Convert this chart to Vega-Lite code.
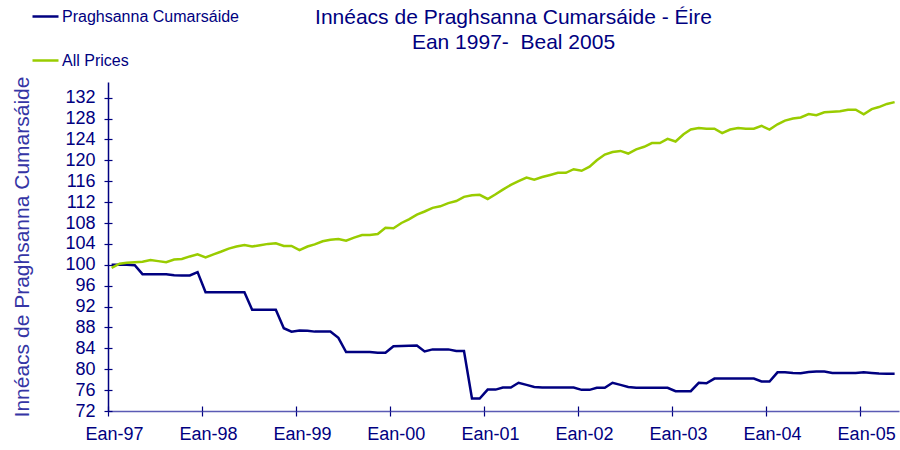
{
  "$schema": "https://vega.github.io/schema/vega-lite/v6.json",
  "autosize": {"type": "none"},
  "padding": {"left": 108, "top": 82, "right": 1, "bottom": 39},
  "width": 791,
  "height": 329,
  "background": "white",
  "config": {"font": "Liberation Sans", "view": {"stroke": null}},
  "title": {
    "text": ["Innéacs de Praghsanna Cumarsáide - Éire", "Ean 1997-\u00a0 Beal 2005"],
    "font": "Liberation Sans",
    "fontSize": 21,
    "fontWeight": "normal",
    "color": "#000080",
    "anchor": "middle",
    "dx": 10,
    "dy": 80,
    "offset": 29,
    "lineHeight": 25
  },
  "data": {
    "values": [
      {"date": "1997-01-15", "Praghsanna Cumarsáide": 100, "All Prices": 99.4},
      {"date": "1997-02-15", "Praghsanna Cumarsáide": 100, "All Prices": 100.2},
      {"date": "1997-03-15", "Praghsanna Cumarsáide": 100, "All Prices": 100.4},
      {"date": "1997-04-15", "Praghsanna Cumarsáide": 99.9, "All Prices": 100.5},
      {"date": "1997-05-15", "Praghsanna Cumarsáide": 98.2, "All Prices": 100.6},
      {"date": "1997-06-15", "Praghsanna Cumarsáide": 98.2, "All Prices": 100.9},
      {"date": "1997-07-15", "Praghsanna Cumarsáide": 98.2, "All Prices": 100.7},
      {"date": "1997-08-15", "Praghsanna Cumarsáide": 98.2, "All Prices": 100.5},
      {"date": "1997-09-15", "Praghsanna Cumarsáide": 98.0, "All Prices": 101.0},
      {"date": "1997-10-15", "Praghsanna Cumarsáide": 97.95, "All Prices": 101.1},
      {"date": "1997-11-15", "Praghsanna Cumarsáide": 97.95, "All Prices": 101.6},
      {"date": "1997-12-15", "Praghsanna Cumarsáide": 98.6, "All Prices": 102.0},
      {"date": "1998-01-15", "Praghsanna Cumarsáide": 94.75, "All Prices": 101.4},
      {"date": "1998-02-15", "Praghsanna Cumarsáide": 94.75, "All Prices": 102.0},
      {"date": "1998-03-15", "Praghsanna Cumarsáide": 94.75, "All Prices": 102.5},
      {"date": "1998-04-15", "Praghsanna Cumarsáide": 94.75, "All Prices": 103.1},
      {"date": "1998-05-15", "Praghsanna Cumarsáide": 94.75, "All Prices": 103.5},
      {"date": "1998-06-15", "Praghsanna Cumarsáide": 94.75, "All Prices": 103.8},
      {"date": "1998-07-15", "Praghsanna Cumarsáide": 91.4, "All Prices": 103.5},
      {"date": "1998-08-15", "Praghsanna Cumarsáide": 91.4, "All Prices": 103.75},
      {"date": "1998-09-15", "Praghsanna Cumarsáide": 91.4, "All Prices": 104.0},
      {"date": "1998-10-15", "Praghsanna Cumarsáide": 91.4, "All Prices": 104.1},
      {"date": "1998-11-15", "Praghsanna Cumarsáide": 87.85, "All Prices": 103.6},
      {"date": "1998-12-15", "Praghsanna Cumarsáide": 87.2, "All Prices": 103.6},
      {"date": "1999-01-15", "Praghsanna Cumarsáide": 87.4, "All Prices": 102.8},
      {"date": "1999-02-15", "Praghsanna Cumarsáide": 87.35, "All Prices": 103.5},
      {"date": "1999-03-15", "Praghsanna Cumarsáide": 87.2, "All Prices": 103.9},
      {"date": "1999-04-15", "Praghsanna Cumarsáide": 87.2, "All Prices": 104.5},
      {"date": "1999-05-15", "Praghsanna Cumarsáide": 87.2, "All Prices": 104.8},
      {"date": "1999-06-15", "Praghsanna Cumarsáide": 86.0, "All Prices": 104.95},
      {"date": "1999-07-15", "Praghsanna Cumarsáide": 83.3, "All Prices": 104.6},
      {"date": "1999-08-15", "Praghsanna Cumarsáide": 83.3, "All Prices": 105.2},
      {"date": "1999-09-15", "Praghsanna Cumarsáide": 83.3, "All Prices": 105.7},
      {"date": "1999-10-15", "Praghsanna Cumarsáide": 83.3, "All Prices": 105.7},
      {"date": "1999-11-15", "Praghsanna Cumarsáide": 83.15, "All Prices": 105.9},
      {"date": "1999-12-15", "Praghsanna Cumarsáide": 83.15, "All Prices": 107.1},
      {"date": "2000-01-15", "Praghsanna Cumarsáide": 84.4, "All Prices": 107.0},
      {"date": "2000-02-15", "Praghsanna Cumarsáide": 84.45, "All Prices": 108.0},
      {"date": "2000-03-15", "Praghsanna Cumarsáide": 84.5, "All Prices": 108.7},
      {"date": "2000-04-15", "Praghsanna Cumarsáide": 84.55, "All Prices": 109.6},
      {"date": "2000-05-15", "Praghsanna Cumarsáide": 83.4, "All Prices": 110.2},
      {"date": "2000-06-15", "Praghsanna Cumarsáide": 83.8, "All Prices": 110.9},
      {"date": "2000-07-15", "Praghsanna Cumarsáide": 83.8, "All Prices": 111.2},
      {"date": "2000-08-15", "Praghsanna Cumarsáide": 83.8, "All Prices": 111.8},
      {"date": "2000-09-15", "Praghsanna Cumarsáide": 83.5, "All Prices": 112.2},
      {"date": "2000-10-15", "Praghsanna Cumarsáide": 83.5, "All Prices": 113.0},
      {"date": "2000-11-15", "Praghsanna Cumarsáide": 74.4, "All Prices": 113.3},
      {"date": "2000-12-15", "Praghsanna Cumarsáide": 74.4, "All Prices": 113.4},
      {"date": "2001-01-15", "Praghsanna Cumarsáide": 76.1, "All Prices": 112.6},
      {"date": "2001-02-15", "Praghsanna Cumarsáide": 76.1, "All Prices": 113.5},
      {"date": "2001-03-15", "Praghsanna Cumarsáide": 76.5, "All Prices": 114.4},
      {"date": "2001-04-15", "Praghsanna Cumarsáide": 76.5, "All Prices": 115.3},
      {"date": "2001-05-15", "Praghsanna Cumarsáide": 77.4, "All Prices": 116.0},
      {"date": "2001-06-15", "Praghsanna Cumarsáide": 77.0, "All Prices": 116.7},
      {"date": "2001-07-15", "Praghsanna Cumarsáide": 76.6, "All Prices": 116.3},
      {"date": "2001-08-15", "Praghsanna Cumarsáide": 76.5, "All Prices": 116.8},
      {"date": "2001-09-15", "Praghsanna Cumarsáide": 76.5, "All Prices": 117.2},
      {"date": "2001-10-15", "Praghsanna Cumarsáide": 76.5, "All Prices": 117.6},
      {"date": "2001-11-15", "Praghsanna Cumarsáide": 76.5, "All Prices": 117.6},
      {"date": "2001-12-15", "Praghsanna Cumarsáide": 76.5, "All Prices": 118.3},
      {"date": "2002-01-15", "Praghsanna Cumarsáide": 76.05, "All Prices": 118.0},
      {"date": "2002-02-15", "Praghsanna Cumarsáide": 76.05, "All Prices": 118.8},
      {"date": "2002-03-15", "Praghsanna Cumarsáide": 76.45, "All Prices": 120.0},
      {"date": "2002-04-15", "Praghsanna Cumarsáide": 76.45, "All Prices": 121.1},
      {"date": "2002-05-15", "Praghsanna Cumarsáide": 77.4, "All Prices": 121.6},
      {"date": "2002-06-15", "Praghsanna Cumarsáide": 77.0, "All Prices": 121.8},
      {"date": "2002-07-15", "Praghsanna Cumarsáide": 76.6, "All Prices": 121.3},
      {"date": "2002-08-15", "Praghsanna Cumarsáide": 76.45, "All Prices": 122.1},
      {"date": "2002-09-15", "Praghsanna Cumarsáide": 76.45, "All Prices": 122.6},
      {"date": "2002-10-15", "Praghsanna Cumarsáide": 76.45, "All Prices": 123.3},
      {"date": "2002-11-15", "Praghsanna Cumarsáide": 76.45, "All Prices": 123.3},
      {"date": "2002-12-15", "Praghsanna Cumarsáide": 76.45, "All Prices": 124.1},
      {"date": "2003-01-15", "Praghsanna Cumarsáide": 75.8, "All Prices": 123.6},
      {"date": "2003-02-15", "Praghsanna Cumarsáide": 75.8, "All Prices": 125.0},
      {"date": "2003-03-15", "Praghsanna Cumarsáide": 75.8, "All Prices": 125.9},
      {"date": "2003-04-15", "Praghsanna Cumarsáide": 77.4, "All Prices": 126.2},
      {"date": "2003-05-15", "Praghsanna Cumarsáide": 77.3, "All Prices": 126.05},
      {"date": "2003-06-15", "Praghsanna Cumarsáide": 78.2, "All Prices": 126.05},
      {"date": "2003-07-15", "Praghsanna Cumarsáide": 78.2, "All Prices": 125.2},
      {"date": "2003-08-15", "Praghsanna Cumarsáide": 78.2, "All Prices": 125.9},
      {"date": "2003-09-15", "Praghsanna Cumarsáide": 78.2, "All Prices": 126.2},
      {"date": "2003-10-15", "Praghsanna Cumarsáide": 78.2, "All Prices": 126.05},
      {"date": "2003-11-15", "Praghsanna Cumarsáide": 78.2, "All Prices": 126.05},
      {"date": "2003-12-15", "Praghsanna Cumarsáide": 77.65, "All Prices": 126.6},
      {"date": "2004-01-15", "Praghsanna Cumarsáide": 77.65, "All Prices": 125.9},
      {"date": "2004-02-15", "Praghsanna Cumarsáide": 79.4, "All Prices": 126.9},
      {"date": "2004-03-15", "Praghsanna Cumarsáide": 79.4, "All Prices": 127.6},
      {"date": "2004-04-15", "Praghsanna Cumarsáide": 79.3, "All Prices": 128.0},
      {"date": "2004-05-15", "Praghsanna Cumarsáide": 79.25, "All Prices": 128.2},
      {"date": "2004-06-15", "Praghsanna Cumarsáide": 79.45, "All Prices": 128.85},
      {"date": "2004-07-15", "Praghsanna Cumarsáide": 79.55, "All Prices": 128.65},
      {"date": "2004-08-15", "Praghsanna Cumarsáide": 79.55, "All Prices": 129.2},
      {"date": "2004-09-15", "Praghsanna Cumarsáide": 79.3, "All Prices": 129.3},
      {"date": "2004-10-15", "Praghsanna Cumarsáide": 79.3, "All Prices": 129.4},
      {"date": "2004-11-15", "Praghsanna Cumarsáide": 79.3, "All Prices": 129.7},
      {"date": "2004-12-15", "Praghsanna Cumarsáide": 79.3, "All Prices": 129.7},
      {"date": "2005-01-15", "Praghsanna Cumarsáide": 79.4, "All Prices": 128.8},
      {"date": "2005-02-15", "Praghsanna Cumarsáide": 79.3, "All Prices": 129.8},
      {"date": "2005-03-15", "Praghsanna Cumarsáide": 79.2, "All Prices": 130.2},
      {"date": "2005-04-15", "Praghsanna Cumarsáide": 79.15, "All Prices": 130.8},
      {"date": "2005-05-15", "Praghsanna Cumarsáide": 79.15, "All Prices": 131.15}
    ]
  },
  "transform": [
    {"fold": ["Praghsanna Cumarsáide", "All Prices"], "as": ["series", "value"]}
  ],
  "layer": [
    {
      "mark": {"type": "line", "strokeWidth": 2.5},
      "encoding": {
        "x": {
          "field": "date",
          "type": "temporal",
          "scale": {
            "type": "utc",
            "domain": [
              {"year": 1997, "month": 1, "date": 1, "utc": true},
              {"year": 2005, "month": 6, "date": 1, "utc": true}
            ]
          },
          "axis": {
            "orient": "bottom",
            "values": [
              {"year": 1997, "month": 1, "date": 1, "utc": true},
              {"year": 1998, "month": 1, "date": 1, "utc": true},
              {"year": 1999, "month": 1, "date": 1, "utc": true},
              {"year": 2000, "month": 1, "date": 1, "utc": true},
              {"year": 2001, "month": 1, "date": 1, "utc": true},
              {"year": 2002, "month": 1, "date": 1, "utc": true},
              {"year": 2003, "month": 1, "date": 1, "utc": true},
              {"year": 2004, "month": 1, "date": 1, "utc": true},
              {"year": 2005, "month": 1, "date": 1, "utc": true}
            ],
            "labelExpr": "'Ean-' + utcFormat(datum.value, '%y')",
            "title": null,
            "grid": false,
            "domainColor": "#5a5ab4",
            "domainWidth": 1.5,
            "tickColor": "#000080",
            "tickSize": 5,
            "tickWidth": 1.2,
            "labelColor": "#000080",
            "labelFont": "Liberation Sans",
            "labelFontSize": 18,
            "labelPadding": 9,
            "labelOffset": 6,
            "labelFlush": false,
            "labelOverlap": false
          }
        },
        "y": {
          "field": "value",
          "type": "quantitative",
          "scale": {"domain": [72, 135], "nice": false, "zero": false},
          "axis": {
            "orient": "left",
            "values": [72, 76, 80, 84, 88, 92, 96, 100, 104, 108, 112, 116, 120, 124, 128, 132],
            "title": "Innéacs de Praghsanna Cumarsáide",
            "titleColor": "#3535a5",
            "titleFont": "Liberation Sans",
            "titleFontSize": 21,
            "titleFontWeight": "normal",
            "titlePadding": 32,
            "grid": false,
            "domainColor": "#000080",
            "domainWidth": 1.5,
            "tickColor": "#000080",
            "tickSize": 4,
            "tickWidth": 1.2,
            "labelColor": "#000080",
            "labelFont": "Liberation Sans",
            "labelFontSize": 18,
            "labelPadding": 9
          }
        },
        "color": {
          "field": "series",
          "type": "nominal",
          "scale": {
            "domain": ["Praghsanna Cumarsáide", "All Prices"],
            "range": ["#000080", "#99cc00"]
          },
          "legend": {
            "orient": "none",
            "legendX": -77,
            "legendY": -80,
            "direction": "vertical",
            "title": null,
            "padding": 0,
            "symbolType": "stroke",
            "symbolSize": 676,
            "symbolStrokeWidth": 2.5,
            "labelFont": "Liberation Sans",
            "labelFontSize": 16,
            "labelColor": "#000080",
            "labelOffset": 2,
            "labelLimit": 0,
            "rowPadding": 21
          }
        }
      }
    },
    {
      "mark": {"type": "line", "opacity": 0},
      "encoding": {
        "x": {
          "field": "date",
          "type": "temporal",
          "axis": {
            "orient": "bottom",
            "values": [
              {"year": 1997, "month": 1, "date": 1, "utc": true},
              {"year": 1998, "month": 1, "date": 1, "utc": true},
              {"year": 1999, "month": 1, "date": 1, "utc": true},
              {"year": 2000, "month": 1, "date": 1, "utc": true},
              {"year": 2001, "month": 1, "date": 1, "utc": true},
              {"year": 2002, "month": 1, "date": 1, "utc": true},
              {"year": 2003, "month": 1, "date": 1, "utc": true},
              {"year": 2004, "month": 1, "date": 1, "utc": true},
              {"year": 2005, "month": 1, "date": 1, "utc": true}
            ],
            "labels": false,
            "domain": false,
            "title": null,
            "grid": false,
            "tickColor": "#000080",
            "tickSize": -5,
            "tickWidth": 1.2
          }
        },
        "y": {
          "field": "value",
          "type": "quantitative",
          "axis": {
            "orient": "left",
            "values": [72, 76, 80, 84, 88, 92, 96, 100, 104, 108, 112, 116, 120, 124, 128, 132],
            "labels": false,
            "domain": false,
            "title": null,
            "grid": false,
            "tickColor": "#000080",
            "tickSize": -4,
            "tickWidth": 1.2
          }
        },
        "detail": {"field": "series", "type": "nominal"}
      }
    }
  ],
  "resolve": {"axis": {"x": "independent", "y": "independent"}}
}
